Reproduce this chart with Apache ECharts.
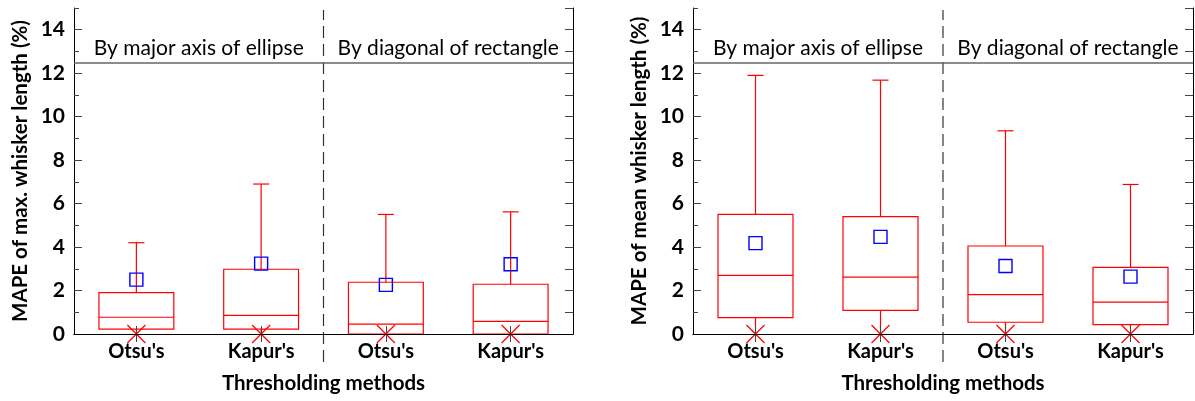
<!DOCTYPE html>
<html>
<head>
<meta charset="utf-8">
<script src="https://cdn.jsdelivr.net/npm/echarts@6/dist/echarts.min.js"></script>
<style>
html,body{margin:0;padding:0;background:#fff;}
#chart{width:1195px;height:401px;}
</style>
</head>
<body>
<div id="chart"></div>
<script>
// ---- data ----
const categories = ["Otsu's", "Kapur's", "Otsu's", "Kapur's"];
const groups = ["By major axis of ellipse", "By diagonal of rectangle"];
const dividerLevel = 12.5;
const yMin = 0, yMax = 15;
const xTitle = "Thresholding methods";
const yTitleLeft = "MAPE of max. whisker length (%)";
const yTitleRight = "MAPE of mean whisker length (%)";
// boxes: [min, Q1, median, Q3, max]
const maxWhiskerBoxes = [
  [0, 0.22, 0.77, 1.90, 4.20],
  [0, 0.22, 0.86, 2.98, 6.90],
  [0, 0.00, 0.45, 2.38, 5.50],
  [0, 0.00, 0.58, 2.29, 5.62]
];
const maxWhiskerMeans = [2.50, 3.24, 2.26, 3.21];
const meanWhiskerBoxes = [
  [0, 0.75, 2.70, 5.50, 11.90],
  [0, 1.09, 2.62, 5.40, 11.68],
  [0, 0.54, 1.81, 4.05, 9.35],
  [0, 0.43, 1.47, 3.07, 6.88]
];
const meanWhiskerMeans = [4.18, 4.47, 3.13, 2.64];

// ---- chart ----
const FONT = 'Lato';
const RED = '#ff0000';
const BLUE = '#0000ff';
const TICKC = '#444';

const panels = [
  {left: 74, right: 622, boxes: maxWhiskerBoxes, means: maxWhiskerMeans, yTitle: yTitleLeft},
  {left: 693, right: 2, boxes: meanWhiskerBoxes, means: meanWhiskerMeans, yTitle: yTitleRight}
];

function renderBox(params, api) {
  const xi = api.value(0);
  const mn = api.value(1), q1 = api.value(2), md = api.value(3), q3 = api.value(4), mx = api.value(5);
  const cx = api.coord([xi, md])[0];
  const w = api.size([1, 0])[0] * 0.6;
  const Y = v => api.coord([xi, v])[1];
  const st = {stroke: RED, lineWidth: 1.2, fill: null};
  const cap = 8, xs = 9;
  const line = (x1, y1, x2, y2) => ({type: 'line', shape: {x1, y1, x2, y2}, style: st});
  return {
    type: 'group',
    children: [
      {type: 'rect', shape: {x: cx - w / 2, y: Y(q3), width: w, height: Y(q1) - Y(q3)}, style: st},
      line(cx - w / 2, Y(md), cx + w / 2, Y(md)),
      line(cx, Y(q3), cx, Y(mx)),
      line(cx - cap, Y(mx), cx + cap, Y(mx)),
      line(cx, Y(q1), cx, Y(mn)),
      line(cx - xs, Y(mn) - xs, cx + xs, Y(mn) + xs),
      line(cx - xs, Y(mn) + xs, cx + xs, Y(mn) - xs)
    ]
  };
}

const grid = [], xAxis = [], yAxis = [], series = [];
panels.forEach((p, pi) => {
  const gi = grid.length;
  grid.push({left: p.left, right: p.right, top: 8, bottom: 67});
  const xb = xAxis.length;
  // bottom category axis
  xAxis.push({
    type: 'category', gridIndex: gi, data: categories, position: 'bottom', z: 5,
    axisLine: {show: true, lineStyle: {color: '#000', width: 1}},
    axisTick: {show: true, inside: true, alignWithLabel: true, length: 8, lineStyle: {color: TICKC}},
    axisLabel: {color: '#000', fontFamily: FONT, fontWeight: 'bold', fontSize: 20, margin: 8, interval: 0},
    name: xTitle, nameLocation: 'middle', nameGap: 39,
    nameTextStyle: {color: '#000', fontFamily: FONT, fontWeight: 'bold', fontSize: 20.5},
    splitLine: {show: false}
  });
  // top category axis (ticks)
  xAxis.push({
    type: 'category', gridIndex: gi, data: categories, position: 'top',
    axisLine: {show: true, lineStyle: {color: '#000', width: 1}},
    axisTick: {show: true, inside: true, alignWithLabel: true, length: 8, lineStyle: {color: TICKC}},
    axisLabel: {show: false}, splitLine: {show: false}
  });
  // top group labels
  xAxis.push({
    type: 'category', gridIndex: gi, data: groups, position: 'top',
    axisLine: {show: false}, axisTick: {show: false}, splitLine: {show: false},
    axisLabel: {inside: true, interval: 0, margin: 30, color: '#000', fontFamily: FONT, fontSize: 21}
  });
  const yb = yAxis.length;
  yAxis.push({
    type: 'value', gridIndex: gi, min: yMin, max: yMax, interval: 2, position: 'left',
    axisLine: {show: true, lineStyle: {color: '#000', width: 1}},
    axisTick: {show: true, inside: true, length: 8, lineStyle: {color: TICKC}},
    axisLabel: {color: '#000', fontFamily: FONT, fontWeight: 'bold', fontSize: 21, margin: 9, showMaxLabel: false},
    splitLine: {show: false},
    name: p.yTitle, nameLocation: 'middle', nameGap: 43, nameRotate: 90,
    nameTextStyle: {color: '#000', fontFamily: FONT, fontWeight: 'bold', fontSize: 20.5}
  });
  yAxis.push({
    type: 'value', gridIndex: gi, min: yMin, max: yMax, interval: 1, position: 'left',
    axisLine: {show: false},
    axisTick: {show: true, inside: true, length: 5, lineStyle: {color: TICKC}},
    axisLabel: {show: false}, splitLine: {show: false}
  });
  yAxis.push({
    type: 'value', gridIndex: gi, min: yMin, max: yMax, interval: 1, position: 'right',
    axisLine: {show: true, lineStyle: {color: '#000', width: 1}},
    axisTick: {show: true, inside: true, length: 8, lineStyle: {color: TICKC}},
    axisLabel: {show: false}, splitLine: {show: false}
  });
  series.push({
    type: 'custom', xAxisIndex: xb, yAxisIndex: yb, renderItem: renderBox, clip: false,
    encode: {x: 0, y: [1, 2, 3, 4, 5]},
    data: p.boxes.map((b, i) => [i, ...b]),
    markLine: {
      silent: true, symbol: 'none', label: {show: false}, animation: false,
      lineStyle: {color: '#666', width: 1.5, type: 'solid'},
      data: [{yAxis: dividerLevel}]
    },
    z: 3
  });
  series.push({
    type: 'scatter', xAxisIndex: xb, yAxisIndex: yb, symbol: 'rect', symbolSize: 13,
    itemStyle: {color: 'rgba(0,0,0,0)', borderColor: BLUE, borderWidth: 1.4, opacity: 1},
    data: p.means.map((m, i) => [i, m]), z: 4
  });
});
// overlay grids for dashed group dividers (extend below the axis)
// x is measured in category widths: the divider sits after the first group's categories
const perGroup = categories.length / groups.length;
panels.forEach((p) => {
  const gi = grid.length;
  grid.push({left: p.left, right: p.right, top: 10, bottom: 39});
  xAxis.push({type: 'value', gridIndex: gi, show: false, min: 0, max: categories.length});
  yAxis.push({type: 'value', gridIndex: gi, show: false, min: 0, max: 1});
  series.push({
    type: 'line', xAxisIndex: xAxis.length - 1, yAxisIndex: yAxis.length - 1,
    symbol: 'none', silent: true,
    lineStyle: {color: '#333', width: 1.2, type: [12, 6]},
    data: [[perGroup, 0], [perGroup, 1]], z: 1
  });
});

const chart = echarts.init(document.getElementById('chart'), null, {renderer: 'canvas'});
chart.setOption({animation: false, backgroundColor: '#fff', grid, xAxis, yAxis, series});
</script>
</body>
</html>
